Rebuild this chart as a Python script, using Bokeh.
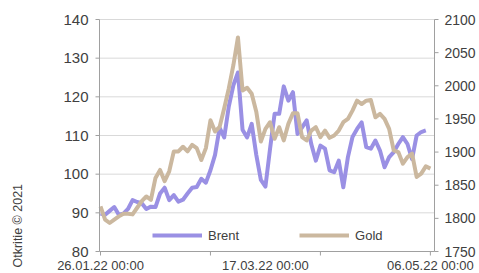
from bokeh.plotting import figure
from bokeh.models import Range1d, Legend, LegendItem
from bokeh.core.properties import value
from bokeh.embed import file_html
from bokeh.resources import INLINE
import math

# ---- data ----
x_tick_pos = [0, 36, 72]
x_tick_labels = ["26.01.22 00:00", "17.03.22 00:00", "06.05.22 00:00"]
x_minor_ticks = [0, 24, 48, 72]
brent_ticks = [80, 90, 100, 110, 120, 130, 140]
gold_ticks = [1750, 1800, 1850, 1900, 1950, 2000, 2050, 2100]
credit = "Otkritie © 2021"

brent = [89.8, 89.5, 90.5, 91.5, 89.5, 89.8, 91.0, 93.3, 92.8, 92.5,
         91.0, 91.6, 91.5, 95.0, 96.5, 93.3, 94.6, 92.9, 93.4, 95.0,
         96.5, 96.7, 98.8, 97.8, 101.0, 105.0, 112.0, 109.5, 117.5, 123.0,
         126.3, 111.5, 109.5, 113.0, 105.0, 98.5, 96.8, 106.5, 115.6, 115.6,
         122.7, 119.0, 121.2, 110.4, 112.1, 113.9, 107.8, 103.5, 107.4, 106.6,
         101.0, 100.5, 103.5, 96.6, 104.4, 109.6, 111.7, 113.4, 107.0, 106.6,
         108.7, 106.1, 101.8, 104.4, 105.7, 107.8, 109.6, 107.8, 103.9, 110.0,
         110.9, 111.3]

gold = [1818, 1798, 1793, 1798, 1803, 1807, 1807, 1806, 1816, 1826,
        1833, 1828, 1861, 1873, 1856, 1871, 1901, 1901, 1908, 1901,
        1911, 1906, 1888, 1906, 1948, 1931, 1938, 1966, 1996, 2031,
        2073, 1993, 1997, 1988, 1961, 1916, 1935, 1945, 1920, 1937.5,
        1917.5, 1942.5, 1958.5, 1958.5, 1922.5, 1917.5, 1932.5, 1937.5, 1922.5, 1932.5,
        1921.5, 1925, 1932.5, 1945, 1950, 1962.5, 1977.5, 1972.5, 1977.5, 1978.5,
        1952.5, 1957.5, 1950, 1935, 1902.5, 1900, 1882.5, 1892.5, 1897.5, 1862.5,
        1867.5, 1878.5, 1875]

brent_x = list(range(len(brent)))
gold_x = list(range(len(gold)))

FONT = value("Liberation Sans")
TXT = "#404040"
AX = "#a0a0a0"
GRID = "#d9d9d9"

# ---- layout of the plotting area (pixels) ----
W, H = 479, 273
FL, FR, FT, FB = 99, 434, 19, 251          # plot-area box in the picture
X0, X1 = -0.22, 72.9                       # x values at the left / right axis
B0, B1 = min(brent_ticks), max(brent_ticks)
G0, G1 = min(gold_ticks), max(gold_ticks)
PX = (FR - FL) / (X1 - X0)
PY = (FB - FT) / (B1 - B0)
PG = (FB - FT) / (G1 - G0)

p = figure(width=W, height=H, output_backend="svg", toolbar_location=None,
           x_range=Range1d(X0 - FL / PX, X0 + (W - FL) / PX),
           y_range=Range1d(B0 - (H - FB) / PY, B1 + FT / PY),
           x_axis_type=None, y_axis_type=None,
           min_border_left=0, min_border_right=0, min_border_top=0, min_border_bottom=0)
p.extra_y_ranges = {"gold": Range1d(G0 - (H - FB) / PG, G1 + FT / PG)}
p.outline_line_color = None
p.grid.visible = False
p.background_fill_color = "white"

def dx(px):
    return px / PX

def dy(px):
    return px / PY

# horizontal grid lines
gl = brent_ticks[1:]
p.segment(x0=[X0] * len(gl), y0=gl, x1=[X1] * len(gl), y1=gl,
          line_color=GRID, line_width=1)

# series
r1 = p.line(brent_x, brent, line_width=4, line_color="#9a90e4", line_join="round")
r2 = p.line(gold_x, gold, line_width=4, line_color="#cbb89f", line_join="round",
            y_range_name="gold")

# left axis (Brent)
p.segment(x0=[X0], y0=[B0], x1=[X0], y1=[B1], line_color=AX, line_width=1)
p.segment(x0=[X0 - dx(4)] * len(brent_ticks), y0=brent_ticks,
          x1=[X0] * len(brent_ticks), y1=brent_ticks, line_color=AX, line_width=1)
p.text(x=[X0 - dx(11)] * len(brent_ticks), y=brent_ticks,
       text=[str(v) for v in brent_ticks],
       text_font=FONT, text_font_size="15px", text_color=TXT,
       text_align="right", text_baseline="middle")

# right axis (Gold)
p.segment(x0=[X1], y0=[G0], x1=[X1], y1=[G1], line_color=AX, line_width=1,
          y_range_name="gold")
p.segment(x0=[X1] * len(gold_ticks), y0=gold_ticks,
          x1=[X1 + dx(4)] * len(gold_ticks), y1=gold_ticks,
          line_color=AX, line_width=1, y_range_name="gold")
p.text(x=[X1 + dx(10)] * len(gold_ticks), y=gold_ticks,
       text=[str(v) for v in gold_ticks], y_range_name="gold",
       text_font=FONT, text_font_size="14px", text_color=TXT,
       text_align="left", text_baseline="middle")

# bottom axis (dates)
p.segment(x0=[X0], y0=[B0], x1=[X1], y1=[B0], line_color=AX, line_width=1)
p.segment(x0=x_minor_ticks, y0=[B0] * len(x_minor_ticks),
          x1=x_minor_ticks, y1=[B0 - dy(4)] * len(x_minor_ticks),
          line_color=AX, line_width=1)
p.text(x=x_tick_pos, y=[B0 - dy(6.5)] * len(x_tick_pos), text=x_tick_labels,
       text_font=FONT, text_font_size="13px", text_color=TXT,
       text_align="center", text_baseline="top")

# credit, reading upwards
p.text(x=[X0 - dx(FL - 17)], y=[B0 - dy(16)], text=[credit], angle=math.pi / 2,
       text_font=FONT, text_font_size="12.5px", text_color=TXT,
       text_align="left", text_baseline="alphabetic")

legend = Legend(items=[LegendItem(label="Brent", renderers=[r1]),
                       LegendItem(label="Gold", renderers=[r2])],
                orientation="horizontal", location=(FL + 53, H - FB + 6),
                glyph_width=50, glyph_height=20, label_standoff=6, spacing=60,
                padding=0, margin=0, border_line_color=None,
                background_fill_alpha=0,
                label_text_font="Liberation Sans", label_text_font_size="13px",
                label_text_color=TXT)
p.add_layout(legend, "center")

open("out.html", "w").write(file_html(p, INLINE))
